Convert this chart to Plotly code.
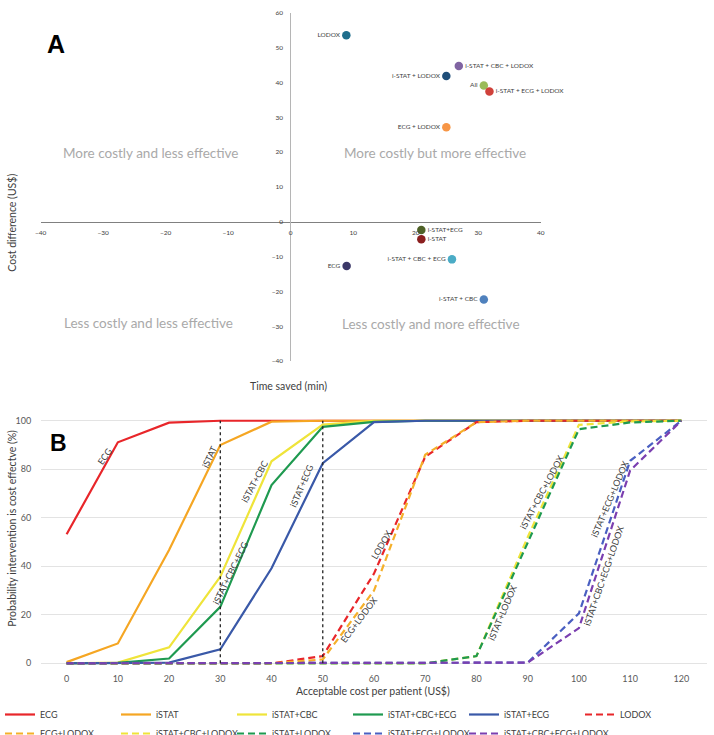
import plotly.graph_objects as go

# ---------------- Panel A data ----------------
strategies_a = ["LODOX", "i-STAT + CBC + LODOX", "i-STAT + LODOX", "All",
                "i-STAT + ECG + LODOX", "ECG + LODOX", "i-STAT+ECG", "i-STAT",
                "i-STAT + CBC + ECG", "ECG", "i-STAT + CBC"]
time_saved = [8.9, 26.9, 24.9, 30.9, 31.8, 24.9, 20.9, 20.9, 25.8, 8.95, 30.9]
cost_diff = [53.5, 44.7, 41.8, 39.1, 37.4, 27.1, -2.4, -5.05, -10.8, -12.7, -22.3]
a_x_ticks = [-40, -30, -20, -10, 0, 10, 20, 30, 40]
a_y_ticks = [-40, -30, -20, -10, 0, 10, 20, 30, 40, 50, 60]

# ---------------- Panel B data ----------------
cost_per_patient = [0, 10, 20, 30, 40, 50, 60, 70, 80, 90, 100, 110, 120]
series_names = ["ECG", "iSTAT", "iSTAT+CBC", "iSTAT+CBC+ECG", "iSTAT+ECG", "LODOX",
                "ECG+LODOX", "iSTAT+CBC+LODOX", "iSTAT+LODOX", "iSTAT+ECG+LODOX",
                "iSTAT+CBC+ECG+LODOX"]
p_ecg = [53.2, 91.1, 99.2, 100, 100, 100, 100, 100, 100, 100, 100, 100, 100]
p_istat = [0.5, 8.2, 46.7, 90, 99.6, 100, 100, 100, 100, 100, 100, 100, 100]
p_istat_cbc = [0, 0.3, 6.6, 35.7, 83.3, 98.4, 100, 100, 100, 100, 100, 100, 100]
p_istat_cbc_ecg = [0, 0.2, 2, 23.3, 73.5, 97.5, 99.5, 100, 100, 100, 100, 100, 100]
p_istat_ecg = [0, 0, 0.3, 5.8, 39.2, 82.5, 99.4, 100, 100, 100, 100, 100, 100]
p_lodox = [0, 0, 0, 0, 0, 3, 37, 85.2, 99.4, 100, 100, 100, 100]
p_ecg_lodox = [0, 0, 0, 0, 0, 1.6, 30, 86, 99.4, 100, 100, 100, 100]
p_istat_cbc_lodox = [0, 0, 0, 0, 0, 0, 0, 0, 3, 52, 98.3, 99.7, 100]
p_istat_lodox = [0, 0, 0, 0, 0, 0, 0, 0, 3, 50, 96.5, 99.3, 100]
p_istat_ecg_lodox = [0, 0, 0, 0, 0, 0, 0, 0, 0, 0.3, 20.6, 83.5, 100]
p_istat_cbc_ecg_lodox = [0, 0, 0, 0, 0, 0, 0, 0, 0, 0.3, 14.5, 79.5, 100]
thresholds = [30, 50]
b_y_ticks = [0, 20, 40, 60, 80, 100]

series_values = [p_ecg, p_istat, p_istat_cbc, p_istat_cbc_ecg, p_istat_ecg, p_lodox,
                 p_ecg_lodox, p_istat_cbc_lodox, p_istat_lodox, p_istat_ecg_lodox,
                 p_istat_cbc_ecg_lodox]

# ---------------- styles ----------------
FONT = "Lato"
a_colors = ["#1f6e8c", "#8064a2", "#1f4e79", "#9bbb59", "#d0413a", "#f79646",
            "#4f6228", "#8b1f1f", "#4bacc6", "#3b3868", "#4f81bd"]
a_textpos = ["middle left", "middle right", "middle left", "middle left", "middle right",
             "middle left", "middle right", "middle right", "middle left", "middle left",
             "middle left"]
b_colors = ["#e8262a", "#f5a623", "#efe43a", "#1f9a50", "#3a59a8", "#e8262a",
            "#f5b02a", "#efe43a", "#1f9a50", "#4a5fc1", "#7b3fb0"]
b_dash = ["solid"] * 5 + ["7px,4px"] * 6

# label placement on curves: (x, y, angle)
b_labels = {
    "ECG": (7.4, 85.2, -55),
    "iSTAT": (27.9, 85.2, -65),
    "iSTAT+CBC": (36.7, 74.9, -62),
    "iSTAT+CBC+ECG": (32.0, 37.4, -64),
    "iSTAT+ECG": (45.8, 73.5, -67),
    "LODOX": (61.5, 48.8, -60),
    "ECG+LODOX": (57.1, 17.9, -53),
    "iSTAT+CBC+LODOX": (92.7, 70.4, -62),
    "iSTAT+LODOX": (85.1, 20.9, -67),
    "iSTAT+ECG+LODOX": (106.1, 67.8, -67),
    "iSTAT+CBC+ECG+LODOX": (104.7, 36.0, -71),
}

W, H = 714, 735
def px(v):
    return v / W
def py(v):
    return 1 - v / H

fig = go.Figure()

# Panel A scatter
fig.add_trace(go.Scatter(
    x=time_saved, y=cost_diff, mode="markers+text", text=strategies_a,
    textposition=a_textpos, textfont=dict(family=FONT, size=6.5, color="#404040"),
    marker=dict(size=8.5, color=a_colors), xaxis="x", yaxis="y",
    showlegend=False, cliponaxis=False, hoverinfo="skip"))

# Panel B lines
for name, vals, col, dash in zip(series_names, series_values, b_colors, b_dash):
    fig.add_trace(go.Scatter(
        x=cost_per_patient, y=vals, mode="lines", name=name,
        line=dict(color=col, width=2.2, dash=dash), xaxis="x2", yaxis="y2"))

shapes = []
for t in thresholds:
    shapes.append(dict(type="line", xref="x2", yref="y2", x0=t, x1=t, y0=0, y1=100,
                       line=dict(color="#222222", width=1.3, dash="dot")))

annotations = []
quad = [("More costly and less effective", -22.5, 19.6),
        ("More costly but more effective", 23.1, 19.7),
        ("Less costly and less effective", -22.8, -29.2),
        ("Less costly and more effective", 22.5, -29.4)]
for txt, qx, qy in quad:
    annotations.append(dict(text=txt, x=qx, y=qy, xref="x", yref="y", showarrow=False,
                            xanchor="center", yanchor="middle",
                            font=dict(family=FONT, size=13.5, color="#a9a9a9")))
for name, (lx, ly, ang) in b_labels.items():
    annotations.append(dict(text=name, x=lx, y=ly, xref="x2", yref="y2", showarrow=False,
                            xanchor="center", yanchor="middle",
                            textangle=ang, font=dict(family=FONT, size=9, color="#404040")))

def paper_text(txt, x, y, size, angle=0, family=FONT, color="#404040"):
    return dict(text=txt, x=px(x), y=py(y), xref="paper", yref="paper", showarrow=False,
                xanchor="center", yanchor="middle", textangle=angle,
                font=dict(family=family, size=size, color=color))

annotations += [
    paper_text("<b>A</b>", 56, 44, 25, family="Liberation Sans", color="black"),
    paper_text("<b>B</b>", 58, 443, 23, family="Liberation Sans", color="black"),
    paper_text("Cost difference (US$)", 11.7, 223, 10.5, angle=-90),
    paper_text("Time saved (min)", 288, 386, 10.5),
    paper_text("Acceptable cost per patient (US$)", 373, 691, 10.5),
    paper_text("Probability intervention is cost effectve (%)", 11.7, 528, 10.5, angle=-90),
]

fig.update_layout(
    width=W, height=H, margin=dict(l=0, r=0, t=0, b=0, autoexpand=False),
    paper_bgcolor="white", plot_bgcolor="white",
    font=dict(family=FONT, color="#404040"),
    xaxis=dict(domain=[px(40.7), px(540.7)], range=[-40, 40], anchor="free",
               position=py(221.7), showline=True, linecolor="#808080", linewidth=1,
               showgrid=False, zeroline=False, tickvals=a_x_ticks,
               ticks="outside", ticklen=4, tickcolor="rgba(0,0,0,0)",
               tickfont=dict(family=FONT, size=6.5, color="#404040")),
    yaxis=dict(domain=[py(361.1), py(12.7)], range=[-40, 60], anchor="free",
               position=px(290.3), showline=True, linecolor="#b5b5b5", linewidth=1,
               showgrid=False, zeroline=False, tickvals=a_y_ticks,
               ticks="outside", ticklen=6, tickcolor="rgba(0,0,0,0)",
               tickfont=dict(family=FONT, size=6.5, color="#404040")),
    xaxis2=dict(domain=[px(41), px(707)], range=[-5, 125], anchor="y2",
                showline=False, showgrid=False, zeroline=False, tickvals=cost_per_patient,
                ticks="outside", ticklen=5, tickcolor="rgba(0,0,0,0)",
                tickfont=dict(family=FONT, size=9, color="#595959")),
    yaxis2=dict(domain=[py(664.8), py(418.8)], range=[-0.6, 100.8], anchor="x2",
                showline=False, showgrid=True, gridcolor="#e3e3e3", gridwidth=1,
                zeroline=False, tickvals=b_y_ticks,
                ticks="outside", ticklen=7, tickcolor="rgba(0,0,0,0)",
                tickfont=dict(family=FONT, size=9, color="#595959")),
    legend=dict(orientation="h", x=0, y=py(700), xanchor="left", yanchor="top",
                entrywidth=71, font=dict(family=FONT, size=9, color="#404040"),
                tracegroupgap=0, bgcolor="rgba(0,0,0,0)"),
    shapes=shapes, annotations=annotations,
)

fig.write_html("out.html")
